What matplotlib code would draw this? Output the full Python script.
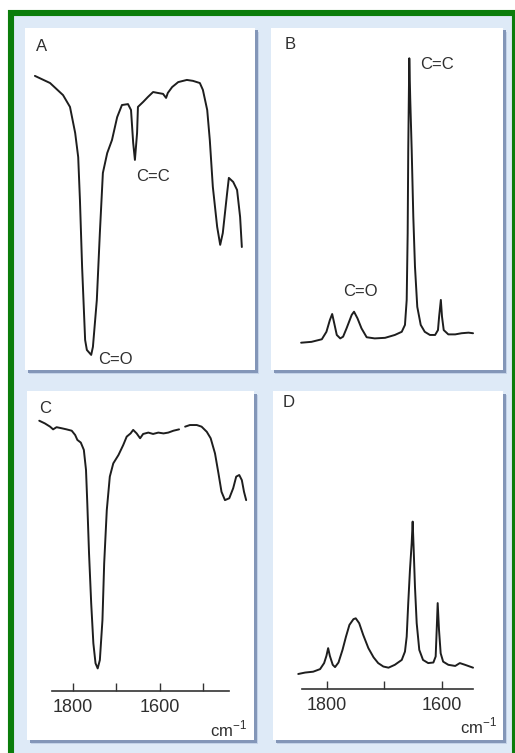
# -*-coding:utf-8-*-
import numpy as np
import matplotlib.pyplot as plt
from matplotlib.patches import Rectangle

plt.rcParams['font.family'] = ['Liberation Sans', 'DejaVu Sans']
plt.rcParams['mathtext.fontset'] = 'custom'
plt.rcParams['mathtext.rm'] = 'Liberation Sans'
plt.rcParams['lines.solid_joinstyle'] = 'round'
plt.rcParams['lines.solid_capstyle'] = 'round'

# A: IR spectrum (transmittance, %)
wn_a = [1888, 1853, 1823, 1807, 1795, 1788, 1784, 1779, 1772, 1768, 1758, 1754,
        1745, 1738, 1731, 1721, 1710, 1698, 1687, 1673, 1666, 1661, 1657, 1652,
        1650, 1638, 1627, 1615, 1604, 1592, 1585, 1581, 1571, 1557, 1537, 1523,
        1507, 1500, 1490, 1484, 1477, 1467, 1460, 1454, 1444, 1440, 1430, 1421,
        1414, 1410]
tr_a = [93.9, 91.6, 87.7, 83.9, 75.5, 67.7, 53.9, 32.3, 8.7, 5.5, 3.9, 6.5,
        21.6, 43.2, 62.6, 69.0, 73.2, 80.6, 84.5, 84.8, 82.9, 72.3, 66.8, 75.5,
        83.9, 85.5, 87.1, 88.7, 88.4, 88.1, 86.8, 88.4, 90.3, 91.9, 92.6, 92.3,
        91.6, 89.4, 82.9, 73.2, 58.1, 45.2, 39.4, 43.2, 56.1, 61.0, 59.7, 57.1,
        48.4, 38.7]

# B: Raman spectrum (intensity, a.u.)
wn_b = [1845, 1827, 1809, 1801, 1795, 1791, 1788, 1783, 1777, 1772, 1766, 1757,
        1753, 1747, 1740, 1731, 1717, 1699, 1682, 1670, 1664.4, 1661.4, 1659.7,
        1658.7, 1657.4, 1656.9, 1655.2, 1652.7, 1649.9, 1647.0, 1643.0, 1637,
        1630, 1621, 1612, 1607, 1605, 1602, 1600, 1597, 1589, 1577, 1566, 1554,
        1546]
int_b = [0.8, 1.1, 2.0, 4.6, 8.7, 10.8, 8.1, 3.5, 2.3, 2.9, 5.8, 10.5,
         11.6, 9.3, 5.8, 2.7, 2.3, 2.5, 3.5, 4.6, 7.0, 15.7, 38.9,
         67.9, 91.2, 99.9, 85.4, 67.9, 44.7, 27.3, 13.3, 7.0,
         4.6, 3.5, 3.5, 5.2, 9.9, 15.7, 9.9, 5.2, 3.7, 3.7, 4.1, 4.3,
         4.1]

# C: IR spectrum (transmittance, %), gap in the trace marked by nan
wn_c = [1878, 1865, 1853, 1846, 1838, 1826, 1815, 1803, 1795, 1790, 1782, 1775,
        1770, 1767, 1763, 1758, 1753, 1748, 1743, 1738, 1732, 1728, 1722, 1715,
        1707, 1695, 1684, 1676, 1667, 1661, 1653, 1645, 1638, 1626, 1615, 1603,
        1591, 1580, 1568, 1555, 1548, 1541, 1530, 1514, 1503, 1491, 1482, 1472,
        1464, 1457, 1449, 1439, 1430, 1423, 1416, 1410, 1405, 1400]
tr_c = [100.1, 99.1, 97.9, 96.9, 97.7, 97.3, 96.9, 96.4, 94.8, 93.0, 92.0, 89.3,
        81.9, 69.5, 51.0, 32.5, 17.7, 10.3, 8.4, 11.5, 26.3, 47.3, 67.0, 79.4,
        84.3, 87.4, 91.1, 94.2, 95.4, 96.7, 95.4, 93.6, 95.2, 95.7, 95.2, 95.7,
        95.4, 95.7, 96.4, 96.9, np.nan, 97.9, 98.5, 98.5, 97.9, 96.0, 93.6, 88.0,
        80.6, 73.8, 70.7, 71.4, 75.1, 79.4, 80.0, 78.1, 73.8, 70.7]

# D: Raman spectrum (intensity, a.u.)
wn_d = [1850, 1838, 1824, 1812, 1805, 1801, 1798, 1795, 1790, 1786, 1780, 1773,
        1767, 1761, 1754, 1750, 1744, 1737, 1728, 1719, 1711, 1702, 1693, 1682,
        1670, 1664.4, 1661.4, 1658.7, 1655.7, 1652.7, 1651.0, 1649.2, 1647.0,
        1644.0, 1639.5, 1633, 1624, 1615, 1611, 1609.2, 1607.5, 1605.2, 1602.3,
        1598, 1589, 1577, 1569, 1560, 1546]
int_d = [5.2, 5.7, 6.0, 6.9, 9.0, 11.5, 14.2, 11.5, 8.4, 7.6, 9.2, 13.6,
         18.2, 22.3, 24.3, 24.6, 22.9, 18.8, 14.2, 11.0, 9.0, 7.8, 7.4, 8.4,
         10.1, 13.0, 18.2, 29.9, 41.5, 50.8, 58.3, 48.4, 35.6,
         22.9, 13.6, 10.1, 9.0, 9.2, 11.3, 20.6, 29.9, 20.6, 12.4,
         9.5, 8.4, 8.0, 9.0, 8.4, 7.4]

W, H = 515, 753
LINE = '#1e1e1e'
TEXT = '#2e2e2e'


def px_box(x0, y0, x1, y1):
    return [x0 / W, 1 - y1 / H, (x1 - x0) / W, (y1 - y0) / H]


def panel(fig, x0, y0, x1, y1, xlim, ylim):
    # soft shadow, then the white card
    for off, col in ((4, '#c3d2e8'), (2.5, '#8396b8')):
        fig.patches.append(Rectangle(((x0 + off) / W, 1 - (y1 + off) / H),
                                     (x1 - x0) / W, (y1 - y0) / H,
                                     transform=fig.transFigure, facecolor=col,
                                     edgecolor='none', zorder=-1))
    ax = fig.add_axes(px_box(x0, y0, x1, y1))
    ax.set_facecolor('white')
    ax.set_xlim(*xlim)
    ax.set_ylim(*ylim)
    for s in ax.spines.values():
        s.set_visible(False)
    ax.set_yticks([])
    ax.set_xticks([])
    return ax


def wn_axis(ax, bounds, major, minor):
    sp = ax.spines['bottom']
    sp.set_visible(True)
    sp.set_position(('data', 0))
    sp.set_bounds(*bounds)
    sp.set_color('#333333')
    sp.set_linewidth(1.2)
    ax.set_xticks(major)
    ax.set_xticklabels([str(v) for v in major])
    ax.set_xticks(minor, minor=True)
    ax.tick_params(axis='x', which='both', direction='in', length=6, width=1,
                   color='#333333', pad=6, labelsize=13, labelcolor=TEXT)


fig = plt.figure(figsize=(W / 100, H / 100), dpi=100)
fig.patch.set_facecolor('white')
fig.patches.append(Rectangle((11 / W, 1 - 770 / H), 504 / W, 757 / H,
                             transform=fig.transFigure, facecolor='#deeaf7',
                             edgecolor='#0b7d0b', linewidth=4.4, zorder=-2))

ax_a = panel(fig, 25, 28, 255, 370, (1910.9, 1379.6), (-0.97, 109.35))
ax_a.plot(wn_a, tr_a, color=LINE, lw=1.4)
ax_a.text(0.074, 0.947, 'A', transform=ax_a.transAxes, fontsize=12,
          color=TEXT, ha='center', va='center')
ax_a.text(1615, 61.3, 'C=C', fontsize=12, color=TEXT, ha='center', va='center')
ax_a.text(1701, 2.3, 'C=O', fontsize=12, color=TEXT, ha='center', va='center')

ax_b = panel(fig, 271, 28, 503, 370, (1897.4, 1493.9), (-8.71, 110.45))
ax_b.plot(wn_b, int_b, color=LINE, lw=1.4)
ax_b.text(0.082, 0.953, 'B', transform=ax_b.transAxes, fontsize=12,
          color=TEXT, ha='center', va='center')
ax_b.text(1609, 97.9, 'C=C', fontsize=12, color=TEXT, ha='center', va='center')
ax_b.text(1741, 18.5, 'C=O', fontsize=12, color=TEXT, ha='center', va='center')

ax_c = panel(fig, 27, 391, 254, 740, (1906.3, 1381.9), (-18.1, 111.1))
ax_c.plot(wn_c, tr_c, color=LINE, lw=1.4)
wn_axis(ax_c, (1849, 1440), [1800, 1600], [1700, 1500])
ax_c.text(0.079, 0.951, 'C', transform=ax_c.transAxes, fontsize=12,
          color=TEXT, ha='center', va='center')
ax_c.text(1398, -13.9, r'c$\mathrm{m}^{-1}$', fontsize=12, color=TEXT,
          ha='right', va='center')

ax_d = panel(fig, 273, 391, 503, 740, (1893.9, 1493.9), (-17.8, 103.8))
ax_d.plot(wn_d, int_d, color=LINE, lw=1.4)
wn_axis(ax_d, (1843.5, 1546), [1800, 1600], [1700])
ax_d.text(0.07, 0.966, 'D', transform=ax_d.transAxes, fontsize=12,
          color=TEXT, ha='center', va='center')
ax_d.text(1504, -13.1, r'c$\mathrm{m}^{-1}$', fontsize=12, color=TEXT,
          ha='right', va='center')

fig.savefig('out.png', dpi=100)
